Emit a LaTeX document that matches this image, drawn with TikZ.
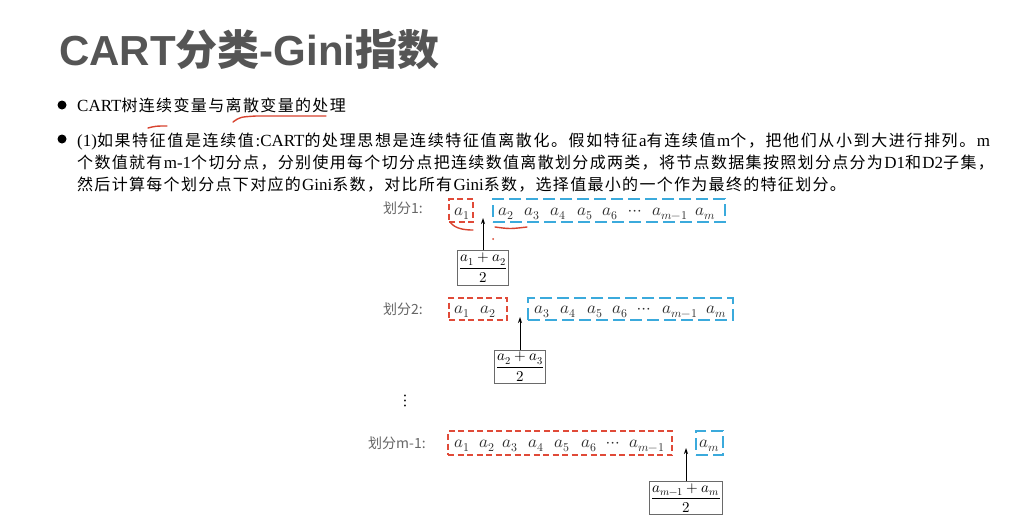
\documentclass[tikz,border=0pt]{standalone}
\usepackage{fontspec}
\usepackage{amsmath}
\usepackage{unicode-math}
\setmainfont{Liberation Serif}
\setmathfont{Latin Modern Math}
\newfontfamily\cjk{Noto Sans CJK SC}
\newfontfamily\hd{Liberation Sans}
\usetikzlibrary{arrows.meta}
\definecolor{titlec}{HTML}{555555}
\definecolor{redc}{HTML}{E04A38}
\definecolor{bluec}{HTML}{3BAADC}
\definecolor{itemc}{HTML}{2E2E2E}
\definecolor{lblc}{HTML}{666666}
\definecolor{fracc}{HTML}{6A6A6A}
\definecolor{penc}{HTML}{D8432F}
\def\spx#1{\ifx\relax#1\else#1\hskip0pt plus 1fil\relax\expandafter\spx\fi}
\newcommand{\cj}[1]{{\cjk\fontsize{16}{18}\selectfont\spx#1\relax}}
\begin{document}
\begin{tikzpicture}[x=1pt,y=-1pt,
  redbox/.style={draw=redc, line width=1.8pt, dash pattern=on 6pt off 3.5pt, inner sep=0pt},
  bluebox/.style={draw=bluec, line width=1.8pt, dash pattern=on 12pt off 5pt, inner sep=0pt},
  item/.style={inner sep=0pt, anchor=base, text=itemc, font=\fontsize{17}{19}\selectfont},
  fracbox/.style={draw=fracc, line width=0.9pt, inner xsep=1.5pt, inner ysep=1.5pt, text=black, font=\fontsize{15}{18}\selectfont},
  lbl/.style={inner sep=0pt, anchor=west, text=lblc, font=\cjk\fontsize{14}{16}\selectfont},
  arr/.style={-{Stealth[length=6pt,width=4pt]}, line width=0.9pt, draw=black},
  para/.style={inner sep=0pt, anchor=base west, text=black, font=\fontsize{17}{20}\selectfont},
  pen/.style={draw=penc, line width=1.4pt, line cap=round},
  bul/.style={circle, fill=black, inner sep=0pt, minimum size=9pt}
]
\useasboundingbox (0,0) rectangle (1015,522);
\fill[white] (0,0) rectangle (1015,522);

% title
\node[inner sep=0pt, anchor=base west, text=titlec] (title) at (59,65)
  {\fontsize{42}{50}\selectfont\hd\bfseries CART{\cjk\bfseries 分类}-Gini{\cjk\bfseries 指数}};

% bullets
\node[bul] (b1) at (62,105) {};
\node[bul] (b2) at (62,139) {};
\node[para] (l0) at (77,111) {\makebox[270pt][s]{CART\cj{树连续变量与离散变量的处理}}};
\node[para] (l1) at (77,146) {\makebox[913pt][s]{(1)\cj{如果特征值是连续值}:CART\cj{的处理思想是连续特征值离散化。假如特征}a\cj{有连续值}m\cj{个，把他们从小到大进行排列。}m}};
\node[para] (l2) at (77,168) {\makebox[918pt][s]{\cj{个数值就有}m-1\cj{个切分点，分别使用每个切分点把连续数值离散划分成两类，将节点数据集按照划分点分为}D1\cj{和}D2\cj{子集}\cj{，}}};
\node[para] (l3) at (77,190) {\makebox[770pt][s]{\cj{然后计算每个划分点下对应的}Gini\cj{系数，对比所有}Gini\cj{系数，选择值最小的一个作为最终的特征划分}\cj{。}}};

% red pen marks in text
\draw[pen] (233,122) .. controls (240,117) .. (256,116) -- (326,116);
\draw[pen] (148,128) .. controls (156,126) .. (167,126);

% ---- row 1
\node[lbl] (lab1) at (383,208) {划分1:};
\node[redbox, minimum width=24pt, minimum height=23pt] (r1) at (461,210.5) {};
\node[bluebox, minimum width=232pt, minimum height=23pt] (u1) at (609,210.5) {};
\node[item] (r1a1) at (462,215) {$a_1$};
\node[item] (u1a2) at (506,215) {$a_2$};
\node[item] (u1a3) at (532,215) {$a_3$};
\node[item] (u1a4) at (558,215) {$a_4$};
\node[item] (u1a5) at (585,215) {$a_5$};
\node[item] (u1a6) at (610,215) {$a_6$};
\node[item] (u1d) at (635,215) {$\cdots$};
\node[item] (u1am1) at (670,215) {$a_{m-1}$};
\node[item] (u1am) at (705,215) {$a_m$};
\node[fracbox, minimum width=50pt, minimum height=35pt] (f1) at (483,267.5) {$\dfrac{a_1+a_2}{2}$};
\coordinate (t1) at (483,218);
\draw[arr] (f1.north) -- (t1);
\draw[pen] (450,222) .. controls (455,229) and (465,230) .. (473,230);
\draw[pen] (495,227) .. controls (510,229) .. (527,227);
\fill[penc] (493,239) circle (1pt);

% ---- row 2
\node[lbl] (lab2) at (383,309) {划分2:};
\node[redbox, minimum width=58pt, minimum height=22pt] (r2) at (478,309) {};
\node[bluebox, minimum width=205pt, minimum height=22pt] (u2) at (630.5,309) {};
\node[item] (r2a1) at (462,313.5) {$a_1$};
\node[item] (r2a2) at (488,313.5) {$a_2$};
\node[item] (u2a3) at (542,313.5) {$a_3$};
\node[item] (u2a4) at (568,313.5) {$a_4$};
\node[item] (u2a5) at (595,313.5) {$a_5$};
\node[item] (u2a6) at (620,313.5) {$a_6$};
\node[item] (u2d) at (644,313.5) {$\cdots$};
\node[item] (u2am1) at (680,313.5) {$a_{m-1}$};
\node[item] (u2am) at (716,313.5) {$a_m$};
\node[fracbox, minimum width=50pt, minimum height=33pt] (f2) at (520,366.5) {$\dfrac{a_2+a_3}{2}$};
\coordinate (t2) at (520,317);
\draw[arr] (f2.north) -- (t2);

% dots
\node[inner sep=0pt, text=black, font=\fontsize{18}{20}\selectfont] (vd) at (405,401) {$\vdots$};

% ---- row 3
\node[lbl] (lab3) at (368,443) {划分m-1:};
\node[redbox, minimum width=224pt, minimum height=24pt] (r3) at (560,443) {};
\node[bluebox, minimum width=27pt, minimum height=24pt] (u3) at (709.5,443) {};
\node[item] (r3a1) at (462,447.5) {$a_1$};
\node[item] (r3a2) at (487,447.5) {$a_2$};
\node[item] (r3a3) at (510,447.5) {$a_3$};
\node[item] (r3a4) at (536,447.5) {$a_4$};
\node[item] (r3a5) at (562,447.5) {$a_5$};
\node[item] (r3a6) at (589,447.5) {$a_6$};
\node[item] (r3d) at (613,447.5) {$\cdots$};
\node[item] (r3am1) at (647,447.5) {$a_{m-1}$};
\node[item] (u3am) at (709,447.5) {$a_m$};
\node[fracbox, minimum width=72pt, minimum height=32pt] (f3) at (686,498) {$\dfrac{a_{m-1}+a_m}{2}$};
\coordinate (t3) at (686,448);
\draw[arr] (f3.north) -- (t3);
\end{tikzpicture}
\end{document}
